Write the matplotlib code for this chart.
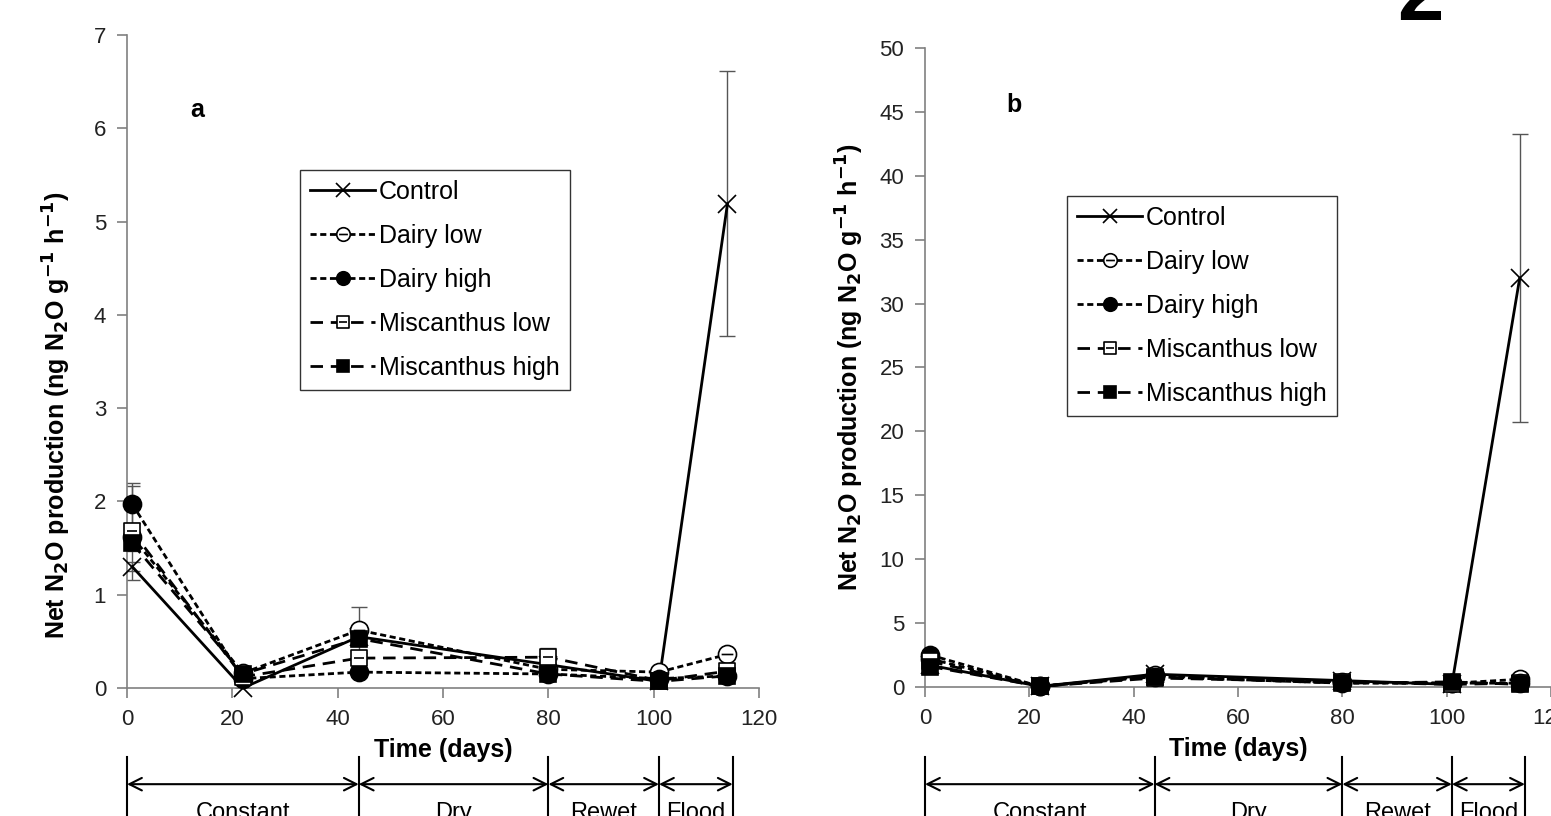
import numpy as np
import matplotlib
matplotlib.use("Agg")
import matplotlib.pyplot as plt
from matplotlib.path import Path
from matplotlib.lines import Line2D
from matplotlib.transforms import blended_transform_factory

plt.rcParams['font.family'] = ['Liberation Sans', 'DejaVu Sans']

days = [1, 22, 44, 80, 101, 114]
series = ['Control', 'Dairy low', 'Dairy high', 'Miscanthus low', 'Miscanthus high']

# panel a values
a_control = [1.30, 0.00, 0.55, 0.25, 0.07, 5.19]
a_dairy_low = [1.62, 0.16, 0.62, 0.20, 0.17, 0.36]
a_dairy_high = [1.97, 0.10, 0.17, 0.15, 0.10, 0.13]
a_misc_low = [1.68, 0.12, 0.32, 0.33, 0.08, 0.18]
a_misc_high = [1.55, 0.15, 0.53, 0.15, 0.07, 0.13]
a_err_control = [0.05, 0.0, 0.0, 0.0, 0.0, 1.42]
a_err_dairy_low = [0.0, 0.0, 0.25, 0.0, 0.0, 0.0]
a_err_dairy_high = [0.20, 0.0, 0.0, 0.0, 0.0, 0.0]
a_err_misc_low = [0.52, 0.0, 0.0, 0.10, 0.0, 0.0]
a_err_misc_high = [0.08, 0.0, 0.0, 0.0, 0.0, 0.0]

# panel b values
b_control = [1.7, 0.05, 1.0, 0.5, 0.2, 32.0]
b_dairy_low = [2.2, 0.05, 0.9, 0.4, 0.3, 0.6]
b_dairy_high = [2.5, 0.05, 0.8, 0.3, 0.3, 0.3]
b_misc_low = [2.0, 0.05, 0.7, 0.4, 0.2, 0.3]
b_misc_high = [1.6, 0.05, 0.8, 0.3, 0.4, 0.2]
b_err_control = [0.0, 0.0, 0.0, 0.0, 0.0, 11.3]

phase_edges = [0, 44, 80, 101, 115]
phase_names = ['Constant', 'Dry', 'Rewet', 'Flood']

# markers with a bar through them
hline = Path([[-0.65, 0], [0.65, 0]], [Path.MOVETO, Path.LINETO])
circ_bar = Path.make_compound_path(Path.unit_circle(), hline)
sq = Path([[-1, -1], [1, -1], [1, 1], [-1, 1], [-1, -1]],
          [Path.MOVETO, Path.LINETO, Path.LINETO, Path.LINETO, Path.CLOSEPOLY])
sq_bar = Path.make_compound_path(sq, hline)

styles = [
    dict(ls='-', marker='x', ms=13, mfc='none', mew=1.2),
    dict(ls=(0, (2.2, 1.3)), marker=circ_bar, ms=13, mfc='white', mew=1.2),
    dict(ls=(0, (2.2, 1.3)), marker='o', ms=13, mfc='black', mew=1.2),
    dict(ls=(0, (4.5, 2.8)), marker=sq_bar, ms=12, mfc='white', mew=1.2),
    dict(ls=(0, (4.5, 2.8)), marker='s', ms=12, mfc='black', mew=1.2),
]

fig = plt.figure(figsize=(15.51, 8.16), dpi=100)
ax_a = fig.add_axes([0.0819, 0.1569, 0.4075, 0.8002])
ax_b = fig.add_axes([0.5964, 0.1581, 0.4036, 0.7831])


def draw(ax, vals, errs, ymax, ystep, leg_anchor, tag, tag_xy, ylab_xy):
    for v, e in zip(vals, errs):
        if e is not None:
            ax.errorbar(days, v, yerr=e, fmt='none', ecolor='#555555',
                        elinewidth=1.0, capsize=6, capthick=1.0, zorder=2)
    for name, v, st in zip(series, vals, styles):
        ax.plot(days, v, color='black', lw=2.0, mec='black', label=name,
                zorder=3, clip_on=False, **st)
    ax.set_xlim(0, 120)
    ax.set_ylim(0, ymax)
    ax.set_xticks(range(0, 121, 20))
    ax.set_yticks(np.arange(0, ymax + 0.01, ystep))
    for s in ['top', 'right']:
        ax.spines[s].set_visible(False)
    for s in ['left', 'bottom']:
        ax.spines[s].set_color('#808080')
        ax.spines[s].set_linewidth(1.2)
    ax.tick_params(direction='out', length=7, width=1.2, color='#808080',
                   labelsize=16, labelcolor='#222222', pad=8)
    ax.set_xlabel('Time (days)', fontsize=18, fontweight='bold', labelpad=6)
    ax.set_ylabel('Net N$_\\mathbf{2}$O production (ng N$_\\mathbf{2}$O g$^\\mathbf{-1}$ h$^\\mathbf{-1}$)',
                  fontsize=18, fontweight='bold')
    ax.yaxis.set_label_coords(*ylab_xy)
    ax.text(tag_xy[0], tag_xy[1], tag, transform=ax.transAxes, fontsize=18,
            fontweight='bold')
    leg = ax.legend(loc='upper left', bbox_to_anchor=leg_anchor, borderaxespad=0,
                    fontsize=18, frameon=True, fancybox=False, handlelength=2.6,
                    handletextpad=0.15, labelspacing=0.8, markerscale=0.75,
                    borderpad=0.4)
    leg.get_frame().set_edgecolor('black')
    leg.get_frame().set_linewidth(1.0)

    # phase annotation below the axis
    tr = blended_transform_factory(ax.transData, fig.transFigure)
    for x in phase_edges:
        fig.add_artist(Line2D([x, x], [0.0, 0.072], transform=tr, color='black', lw=1.5))
    for x0, x1, name in zip(phase_edges[:-1], phase_edges[1:], phase_names):
        ax.annotate('', xy=(x1, 0.039), xytext=(x0, 0.039), xycoords=tr, textcoords=tr,
                    arrowprops=dict(arrowstyle='<->,head_length=0.9,head_width=0.45',
                                    lw=1.5, color='black', shrinkA=0, shrinkB=0))
        ax.text((x0 + x1) / 2, 0.017, name, transform=tr, ha='center', va='top',
                fontsize=17)


draw(ax_a, [a_control, a_dairy_low, a_dairy_high, a_misc_low, a_misc_high],
     [a_err_control, a_err_dairy_low, a_err_dairy_high, a_err_misc_low, a_err_misc_high],
     7, 1, (0.274, 0.793), 'a', (0.1, 0.875), (-0.085, 0.418))
draw(ax_b, [b_control, b_dairy_low, b_dairy_high, b_misc_low, b_misc_high],
     [b_err_control, None, None, None, None],
     50, 5, (0.227, 0.768), 'b', (0.13, 0.9), (-0.095, 0.5))

fig.text(0.9155, 0.975, '2', fontsize=60, fontweight='bold', ha='center', va='baseline')

fig.savefig('out.png', dpi=100)
